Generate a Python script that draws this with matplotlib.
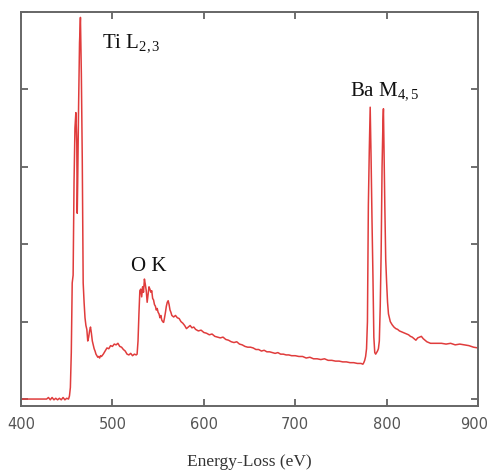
import matplotlib
matplotlib.use("Agg")
import matplotlib.pyplot as plt
import matplotlib.transforms as mtransforms

energy = [400, 410, 420, 428, 430, 432, 434, 436, 438, 440, 442, 444, 446, 448, 450, 452, 453, 454, 455, 456,
          457, 458, 459, 460, 461, 461.5, 462, 463, 464, 465, 466, 467, 468, 469, 470, 471, 472, 473, 474, 475,
          476, 477, 478, 479, 480, 481, 482, 483, 484, 485, 486, 487, 488, 490, 492, 494, 496, 498, 500, 502,
          504, 506, 508, 510, 512, 514, 516, 518, 520, 522, 524, 526, 527, 528, 529, 530, 531, 532, 533, 534,
          535, 536, 537, 538, 539, 540, 541, 542, 543, 544, 545, 546, 547, 548, 549, 550, 551, 552, 553, 554,
          555, 556, 557, 558, 559, 560, 561, 562, 563, 564, 565, 567, 569, 571, 573, 575, 577, 579, 581, 583,
          585, 587, 589, 591, 594, 597, 600, 603, 606, 609, 612, 615, 618, 621, 624, 627, 630, 633, 636, 639,
          642, 645, 648, 651, 654, 657, 660, 663, 666, 669, 672, 675, 678, 681, 684, 687, 690, 693, 696, 700,
          704, 708, 712, 716, 720, 724, 728, 732, 736, 740, 744, 748, 752, 756, 760, 764, 768, 772, 774, 775,
          776, 777, 778, 779, 780, 781, 782, 783, 784, 785, 786, 787, 788, 789, 790, 791, 792, 793, 794, 795,
          796, 796.5, 797, 798, 799, 800, 801, 802, 803, 804, 806, 808, 810, 812, 814, 816, 818, 820, 822, 824,
          826, 828, 830, 832, 834, 836, 838, 840, 842, 844, 846, 848, 850, 855, 860, 865, 870, 875, 880, 885,
          890, 895, 900]
intensity = [0.0, 0.0, 0.0, 0.0, 0.02, -0.01, 0.02, -0.01, 0.01, -0.01, 0.01, -0.01, 0.02, -0.01, 0.01, 0.0, 0.04, 0.15, 0.6, 1.5,
             1.6, 2.8, 3.5, 3.7, 3.3, 2.4, 2.8, 3.8, 4.6, 4.93, 4.2, 3.1, 1.5, 1.25, 1.05, 0.95, 0.9, 0.75, 0.8, 0.88,
             0.93, 0.85, 0.75, 0.7, 0.65, 0.62, 0.58, 0.56, 0.54, 0.55, 0.53, 0.56, 0.55, 0.58, 0.62, 0.66, 0.65, 0.69, 0.68, 0.71,
             0.7, 0.72, 0.68, 0.67, 0.64, 0.62, 0.58, 0.57, 0.59, 0.56, 0.58, 0.57, 0.58, 0.75, 1.1, 1.4, 1.42, 1.32, 1.45, 1.38,
             1.55, 1.48, 1.4, 1.25, 1.35, 1.45, 1.42, 1.38, 1.4, 1.3, 1.28, 1.22, 1.2, 1.15, 1.17, 1.12, 1.1, 1.05, 1.08, 1.02,
             1.0, 0.99, 1.05, 1.12, 1.2, 1.25, 1.27, 1.22, 1.15, 1.12, 1.08, 1.06, 1.08, 1.05, 1.04, 1.0, 0.98, 0.95, 0.91, 0.93,
             0.95, 0.92, 0.93, 0.9, 0.88, 0.89, 0.86, 0.85, 0.83, 0.84, 0.81, 0.8, 0.79, 0.8, 0.77, 0.76, 0.74, 0.73, 0.74, 0.71,
             0.7, 0.68, 0.67, 0.67, 0.66, 0.64, 0.64, 0.62, 0.63, 0.61, 0.61, 0.6, 0.59, 0.6, 0.58, 0.58, 0.57, 0.57, 0.56, 0.56,
             0.55, 0.55, 0.53, 0.54, 0.52, 0.52, 0.51, 0.52, 0.5, 0.5, 0.49, 0.49, 0.48, 0.48, 0.47, 0.47, 0.46, 0.46, 0.45, 0.47,
             0.5, 0.55, 0.65, 1.0, 2.5, 3.2, 3.77, 3.1, 2.3, 1.6, 0.8, 0.6, 0.58, 0.6, 0.62, 0.65, 0.75, 1.2, 1.9, 3.0,
             3.6, 3.75, 3.3, 2.5, 1.8, 1.5, 1.25, 1.1, 1.05, 1.0, 0.96, 0.93, 0.91, 0.9, 0.88, 0.87, 0.86, 0.85, 0.84, 0.83,
             0.81, 0.8, 0.78, 0.76, 0.79, 0.8, 0.81, 0.78, 0.76, 0.74, 0.73, 0.72, 0.72, 0.72, 0.72, 0.71, 0.72, 0.7, 0.71, 0.7,
             0.69, 0.67, 0.66]

x_ticks = [400, 500, 600, 700, 800, 900]
y_ticks = [0, 1, 2, 3, 4, 5]
peak_labels = [r"Ti L$_{2,3}$", "O K", r"Ba M$_{4,5}$"]
peak_pos = [(489, 4.54), (520, 1.66), (760, 3.92)]

plt.rcParams['mathtext.fontset'] = 'custom'
plt.rcParams['mathtext.rm'] = 'Liberation Serif'
plt.rcParams['mathtext.it'] = 'Liberation Serif'

fig = plt.figure(figsize=(4.9, 4.72), dpi=100)
ax = fig.add_axes([0.0429, 0.1398, 0.9327, 0.8348])
ax.plot(energy, intensity, color='#e03c3c', lw=1.1)

ax.set_xlim(400, 900)
ax.set_ylim(-0.09, 5.0)
ax.set_xticks(x_ticks)
ax.set_yticks(y_ticks)
ax.set_yticklabels([])
ax.tick_params(direction='in', length=5, width=1.2, color='#555555',
               top=True, right=True, labelsize=10.5, labelcolor='#555555', pad=8)
for s in ax.spines.values():
    s.set_color('#666666')
    s.set_linewidth(1.4)

# nudge the last tick label slightly left so it stays inside the figure
last = ax.get_xticklabels()[-1]
last.set_transform(last.get_transform() + mtransforms.ScaledTranslation(-4 / 100, 0, fig.dpi_scale_trans))

ax.set_xlabel("Energy-Loss (eV)", family='Liberation Serif', fontsize=12.5, color='#333333', labelpad=16)

for lab, (xp, yp) in zip(peak_labels, peak_pos):
    ax.text(xp, yp, lab, family='Liberation Serif', fontsize=15, color='#111111', ha='left', va='baseline')

fig.savefig("out.png", dpi=100, facecolor='white')
